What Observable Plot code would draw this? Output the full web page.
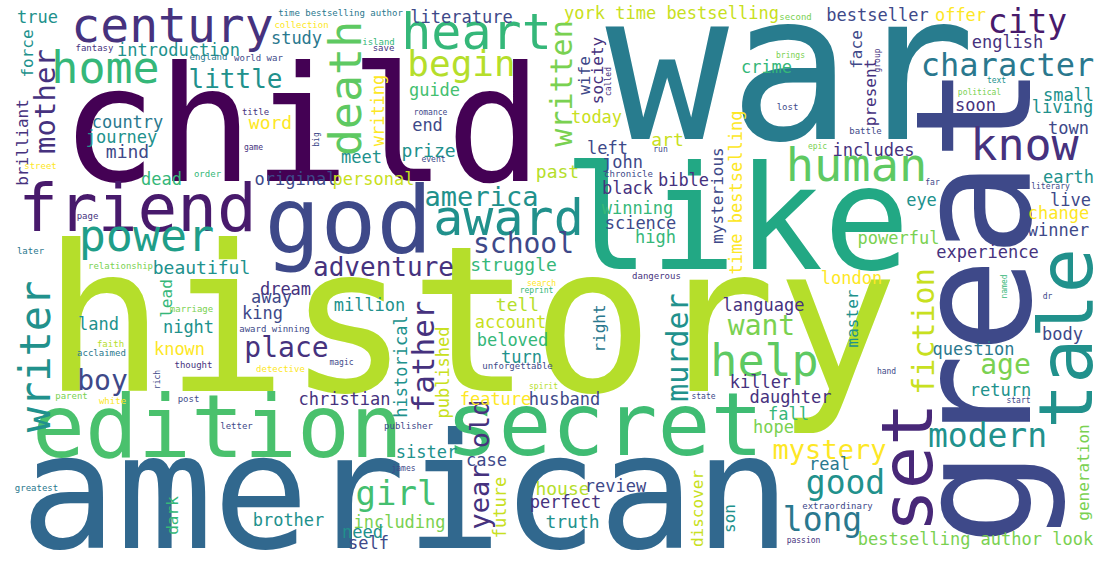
<!DOCTYPE html>
<html><head><meta charset="utf-8">
<script src="https://cdn.jsdelivr.net/npm/d3@7"></script>
<script src="https://cdn.jsdelivr.net/npm/@observablehq/plot@0.6"></script>
<style>body{margin:0;background:#fff}</style>
</head><body><div id="c"></div>
<script>
// [word, x, y, fontSize, color, vertical(1) ] — positions in picture pixels
const P="#440154",U="#482878",V="#46327e",B="#3e4989",T="#2a788e",C="#21918c",G="#35b779",H="#5ec962",L="#b5de2b",K="#c8e020",Y="#fde725";
const bigWords = [
 ["history",470,326,203,L,0],["child",301,129,160,P,0],["american",405,496,160,"#31688e",0],
 ["war",790,73,205,"#287c8e",0],["like",736,222,144,"#22a884",0],["great",978,305,160,B,1],
 ["tale",1067,338,75,C,1],["set",908,467,72,U,1],["secret",604,426,88,"#3fbc73",0],
 ["edition",217,428,88,"#4ac16d",0],["god",348,223,93,B,0],["friend",137,209,66,"#481a6c",0]
];
const mediumWords = [
 ["century",172,26,48,V,0],["heart",476,32,50,G,0],["home",105,68,45,G,0],["begin",461,64,36,L,0],
 ["death",346,88,45,H,1],["award",508,218,50,C,0],["power",146,236,45,"#1f9e89",0],["human",856,165,47,H,0],
 ["know",1024,145,45,V,0],["help",764,361,45,H,0],["character",1007,65,32,T,0],["city",1027,22,33,"#481a6c",0],
 ["written",562,83,30,"#7ad151",1],["writer",36,356,42,C,1],["mother",45,101,29,V,1],["father",424,356,31,V,1],
 ["murder",678,347,30,C,1],["fiction",924,331,30,K,1],["modern",987,436,33,C,0],["good",845,483,33,C,0],
 ["long",822,520,33,T,0],["girl",396,494,34,"#44bf70",0],["year old",480,464,27,V,1],["mystery",829,450,27,Y,0],
 ["place",286,348,28,V,0],["boy",102,381,28,B,0],["want",761,326,28,"#7ad151",0],["age",1005,365,28,"#7ad151",0],
 ["little",235,79,26,C,0],["adventure",383,267,26,V,0],["america",481,197,27,C,0],["school",523,244,28,B,0]
];
const smallWords = [
 ["true",37,17,17,C,0],["force",27,53,16,C,1],["brilliant",22,142,16,V,1],["introduction",178,50,17,C,0],
 ["study",296,38,17,T,0],["literature",461,17,17,B,0],["beautiful",201,268,18,C,0],["struggle",513,265,18,G,0],
 ["country",127,122,17,T,0],["journey",121,137,17,C,0],["mind",127,152,18,B,0],["word",270,123,18,Y,0],
 ["writing",378,110,17,Y,1],["guide",434,90,17,"#44bf70",0],["end",427,125,17,B,0],["prize",428,151,18,C,0],
 ["meet",361,157,17,C,0],["original",295,179,17,B,0],["personal",373,179,17,K,0],["dead",161,179,17,G,0],
 ["past",557,172,18,L,0],["dream",285,289,17,V,0],["away",271,297,17,B,0],["lead",166,298,16,G,1],
 ["million",369,305,17,C,0],["tell",517,305,18,L,0],["king",262,313,17,B,0],["land",98,324,17,C,0],
 ["night",188,327,17,C,0],["account",510,322,17,K,0],["known",179,349,17,Y,0],["beloved",512,340,17,G,0],
 ["turn",521,357,17,C,0],["historical",401,366,17,C,1],["published",443,372,17,K,1],["christian",344,399,17,V,0],
 ["feature",495,399,17,Y,0],["husband",564,399,17,B,0],["sister",426,452,17,C,0],["case",486,460,17,B,0],
 ["dark",172,515,16,G,1],["future",500,507,17,K,1],["house",562,489,18,L,0],["perfect",565,502,17,V,0],
 ["truth",572,522,18,C,0],["brother",288,520,17,C,0],["including",399,522,17,"#7ad151",0],["need",362,532,17,C,0],
 ["self",368,543,17,B,0],["york time bestselling",671,13,17,K,0],["bestseller",877,15,17,B,0],["offer",960,15,17,Y,0],
 ["english",1007,42,17,V,0],["wife",584,75,16,B,1],["society",597,70,16,V,1],["crime",766,67,17,G,0],
 ["face",856,49,16,B,1],["present",870,92,16,V,1],["small",1068,95,17,C,0],["soon",975,105,17,V,0],
 ["living",1062,107,17,C,0],["today",596,117,17,K,0],["town",1068,128,17,B,0],["time bestselling",736,192,17,Y,1],
 ["art",667,140,18,K,0],["left",607,148,17,B,0],["includes",873,150,17,V,0],["john",622,162,17,B,0],
 ["mysterious",717,195,16,B,1],["bible",683,180,17,V,0],["black",627,188,17,V,0],["earth",1068,177,17,C,0],
 ["eye",921,200,17,C,0],["winning",637,208,17,G,0],["live",1070,200,17,B,0],["change",1058,213,17,Y,0],
 ["science",640,223,17,B,0],["winner",1058,230,17,B,0],["high",655,237,17,G,0],["powerful",898,238,17,"#7ad151",0],
 ["experience",987,252,17,V,0],["london",851,278,17,Y,0],["master",852,318,16,C,1],["right",599,328,16,T,1],
 ["language",763,305,17,V,0],["question",973,349,17,T,0],["body",1062,334,17,B,0],["killer",760,382,17,V,0],
 ["return",1000,390,17,C,0],["daughter",790,397,17,V,0],["fall",788,414,17,G,0],["hope",773,427,17,"#7ad151",0],
 ["generation",1083,472,16,"#7ad151",1],["real",829,464,17,T,0],["review",615,486,17,B,0],["discover",697,508,16,K,1],
 ["son",729,518,16,C,1],["bestselling author look",975,539,17,"#7ad151",0]
];
const tinyWords = [
 ["time bestselling author",340,13,9,T,0],["collection",301,25,9,Y,0],["fantasy",94,48,9,V,0],["england",208,57,9,T,0],
 ["world war",258,58,9,B,0],["island",378,42,9,G,0],["save",383,48,9,V,0],["title",255,112,9,V,0],
 ["romance",430,112,8,B,0],["game",253,147,8,V,0],["big",316,139,8,B,1],["event",433,159,8,B,0],
 ["street",40,166,9,Y,0],["order",207,174,9,G,0],["page",87,216,9,V,0],["later",30,251,9,T,0],
 ["relationship",120,266,9,"#7ad151",0],["marriage",191,309,9,"#7ad151",0],["award winning",274,329,9,B,0],
 ["faith",110,344,9,L,0],["acclaimed",101,353,9,T,0],["thought",193,365,9,V,0],["detective",280,369,9,Y,0],
 ["magic",341,362,8,B,0],["unforgettable",517,366,9,B,0],["spirit",543,386,8,L,0],["parent",71,396,9,"#7ad151",0],
 ["white",112,401,9,Y,0],["post",188,399,9,B,0],["rich",157,379,8,B,1],["letter",236,426,9,B,0],
 ["publisher",408,426,9,B,0],["james",403,468,8,B,0],["greatest",36,488,9,T,0],["search",541,283,8,Y,0],
 ["reprint",536,290,8,G,0],["second",795,17,9,"#7ad151",0],["brings",790,55,8,"#7ad151",0],["called",608,81,8,V,1],
 ["group",877,60,8,V,1],["text",996,80,8,C,0],["political",979,92,8,"#7ad151",0],["lost",787,107,9,B,0],
 ["battle",865,131,9,B,0],["epic",817,146,8,"#7ad151",0],["run",660,149,8,B,0],["chronicle",628,174,9,B,0],
 ["far",932,182,8,B,0],["literary",1050,186,8,B,0],["dangerous",656,276,9,V,0],["hand",886,371,8,B,0],
 ["state",703,396,8,B,0],["start",1018,400,8,B,0],["named",1004,286,8,G,1],["dr",1047,296,8,B,0],
 ["extraordinary",837,506,9,B,0],["passion",803,540,8,V,0]
];
const rows = [...bigWords,...mediumWords,...smallWords,...tinyWords].map(([w,x,y,s,c,v])=>({w,x,y,s,c,r:v?-90:0}));
const chart = Plot.plot({
  width:1105, height:562, margin:0,
  x:{domain:[0,1105],axis:null}, y:{domain:[0,562],reverse:true,axis:null},
  color:{type:"identity"},
  style:{background:"#fff"},
  marks:[
    Plot.text(rows,{x:"x",y:"y",text:"w",fontSize:"s",fill:"c",rotate:"r",
      fontFamily:"DejaVu Sans Mono",textAnchor:"middle",lineAnchor:"middle"})
  ]
});
document.getElementById("c").append(chart);
</script></body></html>
